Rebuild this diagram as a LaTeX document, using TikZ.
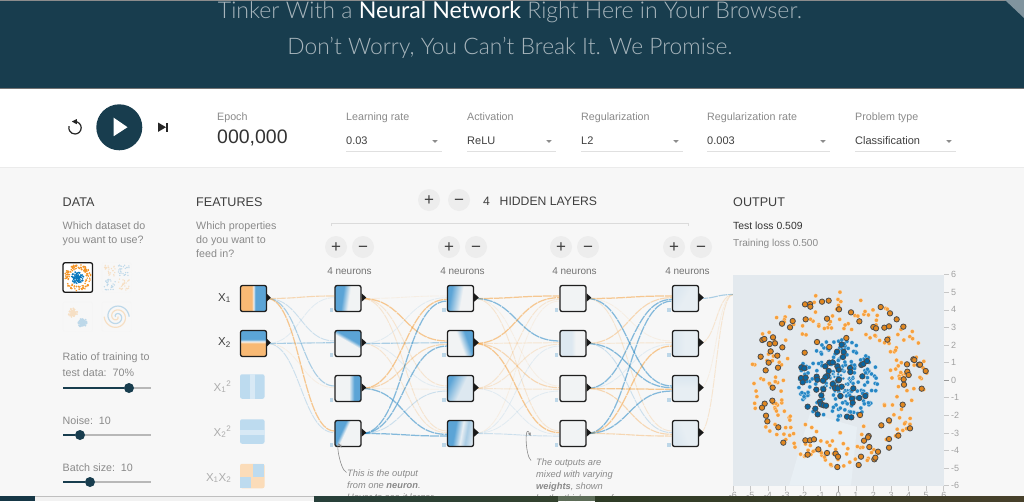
\documentclass[tikz,border=0pt]{standalone}
\usepackage{fontspec}
\setmainfont{Liberation Sans}
\newfontfamily\hdr{Lato}[UprightFont=* Light,BoldFont=* Regular]
\usetikzlibrary{calc,arrows.meta}
\definecolor{navy}{HTML}{183D4E}
\definecolor{pagebg}{HTML}{F7F7F7}
\definecolor{gtext}{HTML}{8A8A8A}
\definecolor{dtext}{HTML}{3F3F3F}
\definecolor{btn}{HTML}{EDEDED}
\definecolor{orng}{HTML}{F59322}
\definecolor{blu}{HTML}{0877BD}
\definecolor{hB}{HTML}{5BA4D6}
\definecolor{hO}{HTML}{F8B974}
\definecolor{hW}{HTML}{F1F3F4}
\definecolor{hP}{HTML}{DDE8F0}
\definecolor{hPP}{HTML}{E7EEF3}
\definecolor{hM}{HTML}{A9CCE4}
\definecolor{plotbg}{HTML}{E3E9EE}
\definecolor{plotlt}{HTML}{E8EFF4}
\newcommand\fs[1]{\fontsize{#1}{#1}\selectfont}
\newcommand\mkshade[5]{\pgfdeclarehorizontalshading{#1}{100bp}{color(0bp)=(#2);color(#3bp)=(#2);color(#5bp)=(#4);color(100bp)=(#4)}}
\pgfdeclarehorizontalshading{sIa}{100bp}{color(0bp)=(hO);color(47bp)=(hO);color(50bp)=(hW);color(53bp)=(hB);color(100bp)=(hB)}
\pgfdeclarehorizontalshading{sIb}{100bp}{color(0bp)=(hO);color(50bp)=(hO);color(54bp)=(hW);color(58bp)=(hB);color(100bp)=(hB)}
\mkshade{sA}{hB}{39}{hW}{52}
\mkshade{sB}{hW}{53}{hB}{60}
\mkshade{sC}{hW}{52}{hB}{62}
\mkshade{sD}{hW}{56}{hB}{63}
\mkshade{sE}{hW}{48}{hB}{70}
\mkshade{sF}{hW}{50}{hB}{65}
\mkshade{sG}{hP}{48}{hB}{74}
\pgfdeclarehorizontalshading{sH}{100bp}{color(0bp)=(hB);color(38bp)=(hB);color(52bp)=(hPP);color(62bp)=(hM);color(75bp)=(hP);color(100bp)=(hP)}
\mkshade{sK}{hP}{47}{hW}{55}
\mkshade{sJ}{hPP}{50}{hP}{70}
\tikzset{
  txt/.style={inner sep=0pt,anchor=base west,text=gtext,font=\fs{10.7}},
  htxt/.style={txt,text=dtext,font=\fs{12.6}},
  sel/.style={txt,text=dtext,font=\fs{11}},
  note/.style={txt,text=gtext,font=\fs{9.3}\itshape},
  flab/.style={inner sep=0pt,anchor=base east,text=dtext,font=\fs{11.5}},
  flabd/.style={flab,text=gtext!70},
  heat/.style 2 args={path picture={\shade[shading=#1,shading angle=#2] (path picture bounding box.south west) rectangle (path picture bounding box.north east);}},
  nbox/.style={draw=black!88,line width=1.3pt,rounded corners=2pt,minimum size=26pt,inner sep=0pt,fill=hW},
  fbox/.style={fill=#1,rounded corners=2pt,minimum size=24.5pt,inner sep=0pt},
  thumb/.style={draw=#1,rounded corners=2pt,minimum size=29.5pt,inner sep=0pt,fill=white},
  thumbp/.style={draw=black!4,rounded corners=2pt,minimum size=29.5pt,inner sep=0pt,fill=pagebg},
  rbtn/.style={circle,fill=btn,minimum size=22pt,inner sep=0pt,text=dtext,font=\fs{17},text height=11.2pt,text depth=0pt},
  linkO/.style={draw=orng,dash pattern=on 9pt off .8pt},
  linkB/.style={draw=blu,dash pattern=on 9pt off .8pt},
  ls/.style={opacity=.48,line width=1.25pt},
  lm/.style={opacity=.32,line width=1.1pt},
  ll/.style={opacity=.18,line width=.95pt},
  lf/.style={opacity=.09,line width=.85pt},
  ddline/.style={draw=black!12,line width=.8pt},
  slideline/.style={draw=black!28,line width=1.1pt},
  slidefill/.style={draw=navy,line width=1.1pt},
  knob/.style={circle,fill=navy,minimum size=10pt,inner sep=0pt},
  tick/.style={draw=black!22,line width=.6pt},
  axl/.style={inner sep=0pt,text=gtext!80,font=\fs{9}},
  oDot/.style={fill=orng!88,draw=white,draw opacity=.55,line width=.4pt},
  bDot/.style={fill=blu!88,draw=white,draw opacity=.55,line width=.4pt},
  oRim/.style={fill=orng!92!black,draw=black!70,line width=.8pt},
  bRim/.style={fill=blu!85!black,draw=black!70,line width=.8pt},
  ann/.style={draw=gtext,line width=.6pt,-{Stealth[length=3.5pt,width=3pt]}},
}
\newcommand\linkset[4]{\foreach \s/\t/\c/\w in {#4}{\pgfmathsetmacro\off{(2.5-\s)*1.7}
  \draw[\c,\w] (#1\s.east) .. controls +(#3,0) and +(-#3,0) .. ([yshift=\off pt]#2\t.west);}}
\begin{document}
\begin{tikzpicture}[x=1pt,y=-1pt]
\useasboundingbox (0,0) rectangle (1024,501);
% backgrounds
\fill[pagebg] (0,0) rectangle (1024,501);
\fill[navy] (0,0) rectangle (1024,88);
\fill[black!45] (0,0) rectangle (1024,.8);
\fill[navy!55!white] (1005,0) -- (1024,0) -- (1024,18) -- cycle;
\fill[black!8] (0,167) rectangle (1024,168.2);
\fill[white] (0,89) rectangle (1024,167);
\fill[black!55] (0,88) rectangle (1024,89);
% header
\node[inner sep=0pt,anchor=base,text=navy!38!white,font=\hdr\fs{23.1}] (head1) at (510,18) {Tinker With a \textbf{\color{white}Neural Network} Right Here in Your Browser.};
\node[inner sep=0pt,anchor=base,text=navy!38!white,font=\hdr\fs{22.8}] (head2) at (510,54) {Don’t Worry, You Can’t Break It. We Promise.};
% transport
\node[circle,fill=navy,minimum size=46pt,inner sep=0pt] (play) at (119.3,127.3) {};
\fill[white] (113.7,117.7) -- (127.5,127.2) -- (113.7,136.2) -- cycle;
\draw[black!85,line width=1.2pt] (75,121.6) arc[start angle=90,end angle=-195,radius=6.2pt];
\fill[black!85] (76.8,119) -- (71.8,121.6) -- (76.8,124.2) -- cycle;
\fill[black!85] (158.2,122.6) -- (166,127.2) -- (158.2,131.8) -- cycle;
\fill[black!85] (166.4,122.6) rectangle (168,131.8);
% control bar text
\node[txt] (epochl) at (217,120) {Epoch};
\node[inner sep=0pt,anchor=base west,text=black!80,font=\fs{19.5}] (epochv) at (217,143.3) {000,000};
\foreach \n/\x/\la/\va in {lr/346/Learning rate/0.03, ac/467/Activation/ReLU, rg/581/Regularization/L2, rr/707/Regularization rate/0.003, pt/855/Problem type/Classification}{
  \node[txt] (\n l) at (\x,120) {\la};
  \node[sel] (\n v) at (\x,144) {\va};
}
\draw[ddline] (346,151.2) -- (442,151.2);
\draw[ddline] (467,151.2) -- (556,151.2);
\draw[ddline] (581,151.2) -- (683,151.2);
\draw[ddline] (707,151.2) -- (830,151.2);
\draw[ddline] (855,151.2) -- (956,151.2);
\foreach \x in {435,549,676,823,949}{\fill[black!45] (\x-2.6,140.2) -- (\x+2.6,140.2) -- (\x,142.8) -- cycle;}
% DATA column
\node[htxt] (datah) at (62.5,206.5) {DATA};
\node[txt] (datas1) at (62.5,229) {Which dataset do};
\node[txt] (datas2) at (62.5,243) {you want to use?};
\node[thumb=black!90,line width=1.3pt] (th1) at (77.8,277.5) {};
\node[thumbp] (th2) at (116.7,277.5) {};
\node[thumbp] (th3) at (77.8,316.7) {};
\node[thumbp] (th4) at (116.7,316.7) {};
\pgfmathsetseed{11}
\begin{scope}
\clip (64,263.5) rectangle (92,291.5);
\foreach \i in {1,...,130}{\pgfmathsetmacro\an{rand*180}\pgfmathsetmacro\ra{11+rand*2.4}\fill[orng] ($(th1.center)+(\an:\ra pt)$) circle[radius=.85pt];}
\foreach \i in {1,...,110}{\pgfmathsetmacro\an{rand*180}\pgfmathsetmacro\ra{abs(rand)*6.5}\fill[blu] ($(th1.center)+(\an:\ra pt)$) circle[radius=.85pt];}
\end{scope}
\begin{scope}[transparency group,opacity=.24]
\foreach \cx/\cy/\cc in {-7/-7/blu,7/-7/orng,-7/7/orng,7/7/blu}{
 \foreach \i in {1,...,28}{\pgfmathsetmacro\ax{\cx+rand*5.5}\pgfmathsetmacro\ay{\cy+rand*5.5}\fill[\cc] ($(th2.center)+(\ax pt,\ay pt)$) circle[radius=.75pt];}}
\foreach \i in {1,...,90}{\pgfmathsetmacro\an{rand*180}\pgfmathsetmacro\ra{abs(rand)*4.5}\fill[orng] ($(th3.center)+(-5pt,4pt)+(\an:\ra pt)$) circle[radius=1pt];}
\foreach \i in {1,...,90}{\pgfmathsetmacro\an{rand*180}\pgfmathsetmacro\ra{abs(rand)*4.5}\fill[blu] ($(th3.center)+(4.5pt,-6pt)+(\an:\ra pt)$) circle[radius=1pt];}
\draw[orng,line width=1.2pt,shift={(th4.center)}] plot[smooth,domain=0:540,samples=40] ({(\x/540*11.5+1)*cos(\x)},{(\x/540*11.5+1)*sin(\x)});
\draw[blu,line width=1.2pt,shift={(th4.center)}] plot[smooth,domain=0:540,samples=40] ({-(\x/540*11.5+1)*cos(\x)},{-(\x/540*11.5+1)*sin(\x)});
\end{scope}
\node[txt] (ratio1) at (62.5,360) {Ratio of training to};
\node[txt] (ratio2) at (62.5,376) {test data:\ \ 70\%};
\node[txt] (noise) at (62.5,424) {Noise:\ \ 10};
\node[txt] (batch) at (62.5,471) {Batch size:\ \ 10};
\foreach \n/\y/\kx in {sa/388/129,sb/435/80,sc/482/90}{
  \node[knob] (\n) at (\kx,\y) {};
  \coordinate (\n L) at (63,\y);
  \coordinate (\n R) at (151,\y);
  \draw[slideline] (\n) -- (\n R);
  \draw[slidefill] (\n L) -- (\n);
}
% FEATURES column
\node[htxt] (feath) at (196,206.5) {FEATURES};
\node[txt] (feats1) at (196,229) {Which properties};
\node[txt] (feats2) at (196,243) {do you want to};
\node[txt] (feats3) at (196,257) {feed in?};
\node[flab] (fx1) at (231,301) {X\textsubscript{1}};
\node[flab] (fx2) at (231,345.5) {X\textsubscript{2}};
\node[flabd] (fx3) at (231.5,391) {X\textsubscript{1}\textsuperscript{2}};
\node[flabd] (fx4) at (231.5,436) {X\textsubscript{2}\textsuperscript{2}};
\node[flabd] (fx5) at (231.5,481) {X\textsubscript{1}X\textsubscript{2}};
% input heat maps
\node[nbox,heat={sIa}{0}] (i1) at (253.5,298.5) {};
\node[nbox,heat={sIb}{90}] (i2) at (253.5,343.5) {};
\node[fbox=hB!40] (i3) at (252.3,386.5) {};
\fill[hB!24] ($(i3.north)+(-2.2,0)$) rectangle ($(i3.south)+(2.6,0)$);
\node[fbox=hB!40] (i4) at (252.3,431.5) {};
\fill[hB!24] ($(i4.west)+(0,-2)$) rectangle ($(i4.east)+(0,3)$);
\node[fbox=hO!50] (i5) at (252.3,476) {};
\fill[hB!40] ($(i5.center)+(1,1)$) rectangle ($(i5.center)+(12,-12.2)$);
\fill[hB!40] ($(i5.center)+(-12.2,1)$) rectangle ($(i5.center)+(-1,12.2)$);
% hidden layer nodes
\node[nbox,heat={sA}{-8}] (a1) at (348,298.5) {};
\node[nbox,heat={sB}{60}] (a2) at (348,343.5) {};
\node[nbox,heat={sC}{0}] (a3) at (348,388.5) {};
\node[nbox,heat={sD}{155}] (a4) at (348,433.5) {};
\node[nbox,heat={sE}{170}] (b1) at (460.5,298.5) {};
\node[nbox,heat={sF}{20}] (b2) at (460.5,343.5) {};
\node[nbox,heat={sG}{155}] (b3) at (460.5,388.5) {};
\node[nbox,heat={sH}{-10}] (b4) at (460.5,433.5) {};
\node[nbox] (c1) at (573,298.5) {};
\node[nbox,heat={sK}{0}] (c2) at (573,343.5) {};
\node[nbox] (c3) at (573,388.5) {};
\node[nbox] (c4) at (573,433.5) {};
\node[nbox,heat={sJ}{150}] (d1) at (685.5,298.5) {};
\node[nbox,heat={sJ}{180}] (d2) at (685.5,343.5) {};
\node[nbox,fill=hP,heat={sJ}{90}] (d3) at (685.5,388.5) {};
\node[nbox,heat={sJ}{200}] (d4) at (685.5,433.5) {};
% links
\linkset{i}{a}{33}{2/1/linkB/lf,2/3/linkO/lf,2/4/linkB/ll,1/2/linkB/ll,1/3/linkB/lm,2/2/linkB/lm,1/1/linkO/lm,1/4/linkO/ls}
\linkset{a}{b}{43}{1/1/linkO/lf,2/1/linkB/lf,2/3/linkB/lf,2/4/linkO/ll,1/3/linkO/ll,1/4/linkO/ll,3/3/linkO/lf,4/3/linkB/ll,2/2/linkB/lm,3/2/linkO/lm,1/2/linkO/ls,3/1/linkO/ls,3/4/linkB/ls,4/1/linkB/ls,4/2/linkB/ls,4/4/linkB/ls}
\linkset{b}{c}{43}{1/3/linkO/lf,4/1/linkO/lf,4/2/linkB/lf,4/3/linkB/lf,3/4/linkB/lf,1/4/linkO/ll,3/1/linkO/ll,3/2/linkO/ll,3/3/linkO/ll,2/2/linkO/ll,4/4/linkB/ll,2/3/linkO/lm,1/1/linkO/ls,1/2/linkB/ls,2/1/linkO/ls,2/4/linkO/ls}
\linkset{c}{d}{43}{1/2/linkO/lf,3/2/linkB/lf,2/2/linkO/ll,2/4/linkB/ll,1/4/linkO/ll,3/4/linkO/lm,4/4/linkO/lm,2/1/linkO/lm,1/1/linkO/ls,1/3/linkB/ls,2/3/linkB/ls,3/1/linkB/ls,3/3/linkO/ls,4/1/linkB/ls,4/2/linkO/ls,4/3/linkB/ls}
\coordinate (outp) at (733,294.5);
\draw[linkO,lf] (d3.east) .. controls +(17,0) and +(-17,0) .. (outp);
\draw[linkO,ll] (d2.east) .. controls +(17,0) and +(-17,0) .. (outp);
\draw[linkO,ll] (d4.east) .. controls +(17,0) and +(-17,0) .. (outp);
\draw[linkB,lm] (d1.east) .. controls +(17,0) and +(-17,0) .. (outp);
% node decorations
\foreach \n in {a,b,c,d}{\foreach \k in {1,2,3,4}{
  \fill[black!90] ($(\n\k.east)+(0,-5.2)$) -- ($(\n\k.east)+(4.6,-.9)$) -- ($(\n\k.east)+(0,3.2)$) -- cycle;
  \fill[hP!85!blu] ($(\n\k.south west)+(-4.5,-4)$) rectangle ++(3.6,3.7);
}}
\fill[black!90] ($(i1.east)+(0,-4.4)$) -- ($(i1.east)+(3.6,-.9)$) -- ($(i1.east)+(0,2.8)$) -- cycle;
\fill[black!90] ($(i2.east)+(0,-4.4)$) -- ($(i2.east)+(3.6,-.9)$) -- ($(i2.east)+(0,2.8)$) -- cycle;
% layer controls
\node[rbtn] (addl) at (429,200) {+};
\node[rbtn] (dell) at (459,200) {−};
\node[inner sep=0pt,anchor=base west,text=dtext,font=\fs{12.2}] (lnum) at (483,205.3) {4};
\node[inner sep=0pt,anchor=base west,text=dtext,font=\fs{12.2}] (ltxt) at (499.5,205.3) {HIDDEN LAYERS};
\draw[black!14,line width=.9pt] (331,226) -- (331,223) -- (688,223) -- (688,226);
\foreach \n/\x in {a/336,b/449,c/561,e/674}{
  \node[rbtn] (p\n) at (\x,247) {+};
  \node[rbtn] (m\n) at (\x+27,247) {−};
  \node[txt,anchor=base,font=\fs{10},text=black!55] (t\n) at (\x+13.5,274) {4 neurons};
}
% OUTPUT
\node[htxt] (outh) at (733,206.5) {OUTPUT};
\node[txt,text=black!80,font=\fs{10.4}] (lossa) at (733,229) {Test loss 0.509};
\node[txt,font=\fs{10.1}] (lossb) at (733,246) {Training loss 0.500};
\fill[plotbg] (732.7,274.7) rectangle (944,485.7);
\fill[plotlt] (789,485.7) -- (810,413) -- (857,427) -- (851,485.7) -- cycle;
\foreach \v in {-6,...,6}{
  \coordinate (ry) at (944,380.2+\v*17.58);
  \draw[tick] (ry) -- ++(4.5,0);
  \pgfmathtruncatemacro\lbl{-\v}
  \node[axl,anchor=west] (ylab\lbl) at (951,380.2+\v*17.58) {\lbl};
  \coordinate (rx) at (838.3+\v*17.58,486);
  \draw[tick] (rx) -- ++(0,5);
  \node[axl,anchor=north] (xlab\lbl) at (838.3-\v*17.58,492.5) {\lbl};
}
\draw[black!40,line width=.7pt] (838.3,486) -- (838.3,492);
\draw[black!40,line width=.7pt] (944,380.2) -- (949,380.2);
% scatter
\begin{scope}[shift={(838.3,380.2)}]
\clip (-105.6,-105.6) rectangle (105.6,105.6);
\pgfmathsetseed{23}
\foreach \i in {1,...,210}{\pgfmathsetmacro\an{rand*180}\pgfmathsetmacro\ra{4+rand*1.05}\path[oDot] (\an:\ra*17.58pt) circle[radius=2.1pt];}
\foreach \i in {1,...,165}{\pgfmathsetmacro\an{rand*180}\pgfmathsetmacro\ra{sqrt(abs(rand))*2.3}\path[bDot] (\an:\ra*17.58pt) circle[radius=2.1pt];}
\foreach \i in {1,...,30}{\pgfmathsetmacro\an{rand*180}\pgfmathsetmacro\ra{abs(rand)*.9}\path[bDot] (\an:\ra*17.58pt) circle[radius=1.7pt];}
\end{scope}
\foreach \x/\y in {255/133,270/132,271/140,306/125,326/122,357/148,393/157,321/176,257/178,218/183,186/191,210/202,127/240,133/237,159/232,149/252,165/250,152/274,187/262,172/287,122/290,146/308,174/323,137/331,254/278,291/246,328/261,379/234,418/184,482/141,510/160,530/178,550/200,460/201,468/205,493/203,507/199,502/239,580/298,583/300,597/314,600/314,617/333,561/313,562/335,566/345,551/358,552/374,605/386,158/383,157/422,134/431,126/443,138/467,142/484,175/502,190/548,256/541,270/541,282/538,263/584,295/568,321/579,347/581,354/590,352/621,416/615,423/590,463/598,466/593,474/575,448/561,432/542,446/528,444/532,507/537,507/563,484/496,507/481,535/527,570/505,548/434,420/465}{
  \path[oRim] (720+\x/3,260+\y/3) circle[radius=2.7pt];}
\foreach \x/\y in {244/322,253/325,316/319,328/308,338/307,352/319,356/329,326/333,365/254,351/275,371/276,369/291,390/324,391/336,424/315,430/312,441/303,427/349,243/354,257/353,248/367,290/350,292/359,322/348,316/352,309/362,338/372,355/361,357/359,345/384,365/380,353/385,400/385,289/389,310/388,304/406,300/425,303/433,361/408,396/416,398/428,418/414,436/408,263/440,286/446,293/463,311/436,318/437,381/470,394/472}{
  \path[bRim] (720+\x/3,260+\y/3) circle[radius=2.7pt];}
% annotations
\node[note] (n1a) at (347,476) {This is the output};
\node[note] (n1b) at (347,488) {from one \textbf{neuron}.};
\node[note] (n1c) at (347,500) {Hover to see it larger.};
\node[note] (n2a) at (536,465) {The outputs are};
\node[note] (n2b) at (536,477) {mixed with varying};
\node[note] (n2c) at (536,489) {\textbf{weights}, shown};
\node[note] (n2d) at (536,501) {by the thickness of};
\coordinate (an1) at (341.5,447.5);
\coordinate (an2) at (530.5,436);
\draw[ann] (n1a.base west)++(-.5,-3.5) .. controls +(-7,-3) and +(-7,-12) .. (an1);
\draw[ann] (n2a.base west)++(-5,-4.5) .. controls +(-6,-5) and +(-6,-15) .. (an2);
% bottom strip
\definecolor{stripa}{HTML}{27403A}
\definecolor{stripb}{HTML}{33422E}
\definecolor{stripc}{HTML}{5D6D58}
\definecolor{stripd}{HTML}{2E3C26}
\definecolor{stripe}{HTML}{47402A}
\fill[white!95!black] (0,496) rectangle (1024,501);
\fill[black!25] (0,495.6) rectangle (1024,497);
\fill[navy!90!black] (0,496) rectangle (35,501);
\shade[left color=stripa,right color=stripb] (314,496) rectangle (558,501);
\fill[stripc] (558,496) rectangle (595,501);
\shade[left color=stripd,right color=stripe] (595,496) rectangle (1024,501);
\end{tikzpicture}
\end{document}
